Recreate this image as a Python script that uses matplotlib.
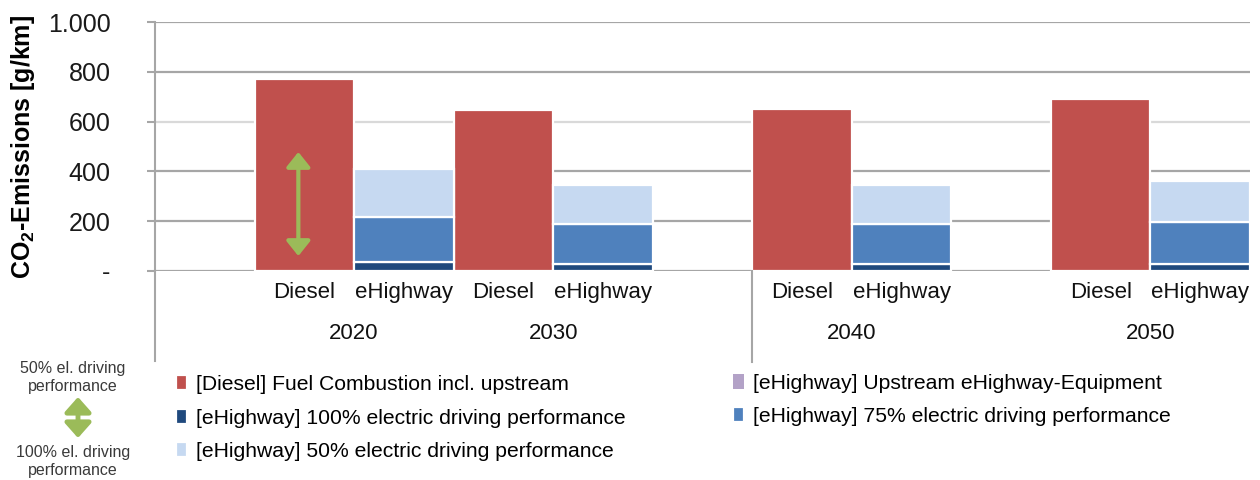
import matplotlib
matplotlib.use("Agg")
import matplotlib.pyplot as plt
from matplotlib.patches import FancyArrowPatch
import numpy as np

plt.rcParams['font.family'] = ['Liberation Sans', 'DejaVu Sans']
plt.rcParams['mathtext.fontset'] = 'custom'
plt.rcParams['mathtext.rm'] = 'Liberation Sans'
plt.rcParams['mathtext.bf'] = 'Liberation Sans:bold'

# ---- data ----
years = ['2020', '2030', '2040', '2050']
bar_names = ['Diesel', 'eHighway']
diesel = [770, 648, 649, 690]
ehw_100 = [35, 30, 30, 30]        # 100% electric driving performance
ehw_75 = [183, 158, 158, 167]     # additional for 75%
ehw_50 = [190, 157, 157, 164]     # additional for 50%
ehw_upstream = [0, 0, 0, 0]       # upstream eHighway equipment
yticks = [0, 200, 400, 600, 800, 1000]
ytick_labels = ['-', '200', '400', '600', '800', '1.000']

series_labels = ['[Diesel] Fuel Combustion incl. upstream',
                 '[eHighway] 100% electric driving performance',
                 '[eHighway] 50% electric driving performance',
                 '[eHighway] Upstream eHighway-Equipment',
                 '[eHighway] 75% electric driving performance']

# ---- layout ----
diesel_pos = np.array([1, 3, 6, 9])
ehw_pos = diesel_pos + 1

RED = '#c0504d'
DBLUE = '#1f497d'
MBLUE = '#4f81bd'
LBLUE = '#c6d9f1'
PURPLE = '#b3a2c7'
GREEN = '#9bbb59'
GRID = '#a6a6a6'

W, H = 1260, 480
fig = plt.figure(figsize=(12.6, 4.8), dpi=100)
ax = fig.add_axes([155 / W, 1 - 271 / H, 1095 / W, 249 / H])
ax.set_xlim(-0.5, 10.5)
ax.set_ylim(0, 1000)

for v in yticks:
    ax.axhline(v, color=('#d9d9d9' if v == 600 else GRID), lw=1.6, zorder=0)

bk = dict(width=1.0, edgecolor='white', linewidth=1.6, zorder=2)
b_d = ax.bar(diesel_pos, diesel, color=RED, **bk)
b_100 = ax.bar(ehw_pos, ehw_100, color=DBLUE, **bk)
bottom = np.array(ehw_100)
b_75 = ax.bar(ehw_pos, ehw_75, bottom=bottom, color=MBLUE, **bk)
bottom = bottom + np.array(ehw_75)
b_50 = ax.bar(ehw_pos, ehw_50, bottom=bottom, color=LBLUE, **bk)
bottom = bottom + np.array(ehw_50)
b_up = ax.bar(ehw_pos, ehw_upstream, bottom=bottom, color=PURPLE,
              width=1.0, linewidth=0, zorder=2)

ax.set_yticks(yticks)
ax.set_yticklabels(ytick_labels)
ax.tick_params(axis='y', length=6, width=1.5, color=GRID, pad=26,
               labelsize=18, labelcolor='#1a1a1a')
ax.tick_params(axis='x', bottom=False, labelbottom=False)
for s in ['top', 'right', 'bottom']:
    ax.spines[s].set_visible(False)
ax.spines['left'].set_color(GRID)
ax.spines['left'].set_linewidth(1.5)

ax.set_ylabel(r'CO$_\mathbf{2}$-Emissions [g/km]', fontsize=18,
              fontweight='bold', labelpad=0)
ax.yaxis.set_label_coords((37 - 155) / 1095, 0.5)

# category axis extensions
xt = ax.get_xaxis_transform()
ax.plot([-0.5, -0.5], [0, -0.36], transform=xt, color=GRID, lw=1.5,
        clip_on=False)
ax.plot([5.5, 5.5], [0, -0.365], transform=xt, color=GRID, lw=1.5,
        clip_on=False)

# category labels
for i, y in enumerate(years):
    ax.text(diesel_pos[i], -0.085, bar_names[0], transform=xt, ha='center',
            va='center', fontsize=16, color='#111111')
    ax.text(ehw_pos[i], -0.085, bar_names[1], transform=xt, ha='center',
            va='center', fontsize=16, color='#111111')
    ax.text((diesel_pos[i] + ehw_pos[i]) / 2, -0.25, y, transform=xt,
            ha='center', va='center', fontsize=16, color='#111111')

# green arrow in first diesel bar
ax.annotate('', xy=(diesel_pos[0] - 0.06, 60),
            xytext=(diesel_pos[0] - 0.06, 478),
            arrowprops=dict(arrowstyle='<|-|>,head_length=0.45,head_width=0.36',
                            color=GREEN, lw=3, mutation_scale=20,
                            shrinkA=0, shrinkB=0), zorder=3)

# side annotation
fig.text(73 / W, 1 - 377 / H, '50% el. driving\nperformance', ha='center',
         va='center', fontsize=11.5, color='#3a3a3a', linespacing=1.25)
fig.text(73 / W, 1 - 461 / H, '100% el. driving\nperformance', ha='center',
         va='center', fontsize=11.5, color='#3a3a3a', linespacing=1.25)
fig.add_artist(FancyArrowPatch((78 / W, 1 - 397 / H), (78 / W, 1 - 438 / H),
                               transform=fig.transFigure,
                               arrowstyle='<|-|>,head_length=0.45,head_width=0.4',
                               mutation_scale=20, color=GREEN, lw=3.5,
                               shrinkA=0, shrinkB=0))

# legends
lkw = dict(frameon=False, fontsize=15.2, handlelength=0.52, handleheight=0.7,
           handletextpad=0.45, labelspacing=0.68, borderpad=0,
           borderaxespad=0, loc='center left')
leg1 = fig.legend([b_d, b_100, b_50], series_labels[:3],
                  bbox_to_anchor=(176 / W, 1 - 418 / H), **lkw)
leg2 = fig.legend([b_up, b_75], series_labels[3:],
                  bbox_to_anchor=(733 / W, 1 - 400 / H), **lkw)

fig.savefig('out.png', dpi=100)
